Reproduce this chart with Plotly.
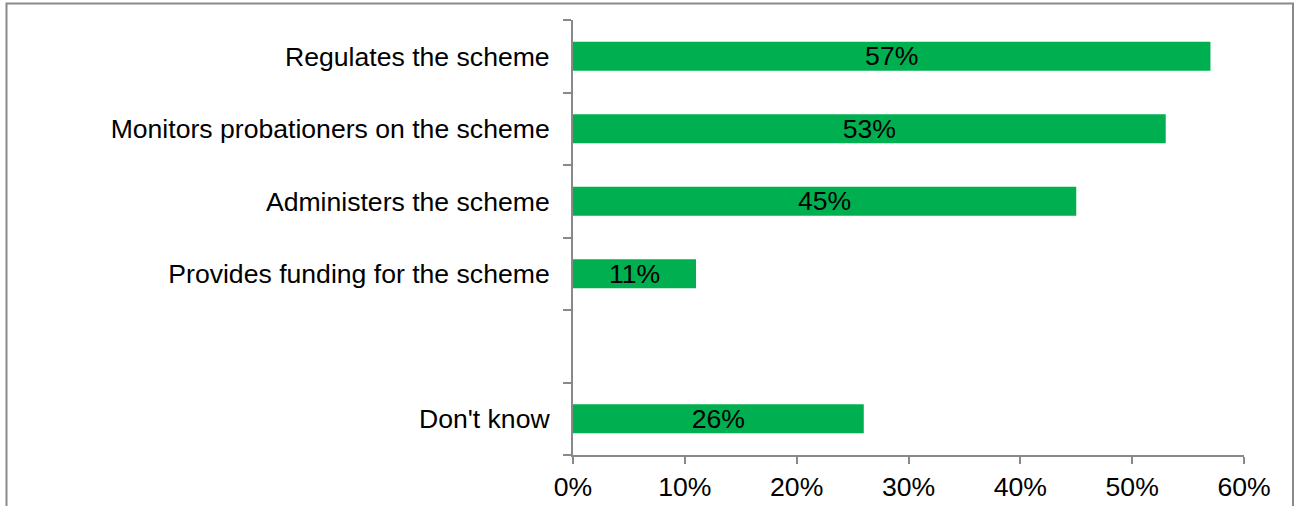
import plotly.graph_objects as go

# Survey responses: what the organisation does for the scheme
categories = [
    "Regulates the scheme",
    "Monitors probationers on the scheme",
    "Administers the scheme",
    "Provides funding for the scheme",
    "",
    "Don't know",
]
shares = [0.57, 0.53, 0.45, 0.11, None, 0.26]
x_ticks = [0, 0.1, 0.2, 0.3, 0.4, 0.5, 0.6]

positions = list(range(len(categories)))
labels = [f"{v * 100:.0f}%" if v is not None else "" for v in shares]

GREEN = "#00B050"
AXIS = "#898989"
FONT = "Liberation Sans, Arial, sans-serif"
SIZE = 26.6

fig = go.Figure(
    go.Bar(
        x=shares,
        y=positions,
        orientation="h",
        width=0.4,
        marker=dict(color=GREEN, line=dict(width=0)),
        text=labels,
        textposition="inside",
        insidetextanchor="middle",
        constraintext="none",
        textfont=dict(family=FONT, size=SIZE, color="black"),
        hoverinfo="skip",
    )
)

L, R, T, B = 573, 50, 20, 51
W, H = 1294, 506
pw, ph = W - L - R, H - T - B

def px_x(px):
    return (px - L) / pw

def px_y(py):
    return (H - B - py) / ph

fig.update_layout(
    width=W,
    height=H,
    margin=dict(l=L, r=R, t=T, b=B, pad=0, autoexpand=False),
    paper_bgcolor="white",
    plot_bgcolor="white",
    showlegend=False,
    font=dict(family=FONT, size=SIZE, color="black"),
    xaxis=dict(
        range=[0, 0.6],
        tickvals=x_ticks,
        tickformat=".0%",
        ticks="outside",
        ticklen=7,
        tickwidth=2,
        tickcolor=AXIS,
        ticklabelstandoff=0,
        showline=True,
        linecolor=AXIS,
        linewidth=2,
        showgrid=False,
        zeroline=False,
        automargin=False,
        tickfont=dict(family=FONT, size=SIZE, color="black"),
        fixedrange=True,
    ),
    yaxis=dict(
        range=[len(categories) - 0.5, -0.5],
        tickvals=positions,
        ticktext=categories,
        ticks="",
        ticklabelstandoff=16,
        showline=True,
        linecolor=AXIS,
        linewidth=2,
        showgrid=False,
        zeroline=False,
        automargin=False,
        tickfont=dict(family=FONT, size=SIZE, color="black"),
        minor=dict(
            tickmode="linear",
            tick0=-0.5,
            dtick=1,
            ticks="outside",
            ticklen=8,
            tickwidth=2,
            tickcolor=AXIS,
            showgrid=False,
        ),
        fixedrange=True,
    ),
    shapes=[
        dict(
            type="rect",
            xref="paper",
            yref="paper",
            x0=px_x(6.5),
            x1=px_x(1293),
            y0=px_y(560),
            y1=px_y(3.5),
            line=dict(color=AXIS, width=2),
            fillcolor="rgba(0,0,0,0)",
            layer="below",
        )
    ],
)

fig.write_html("out.html")
